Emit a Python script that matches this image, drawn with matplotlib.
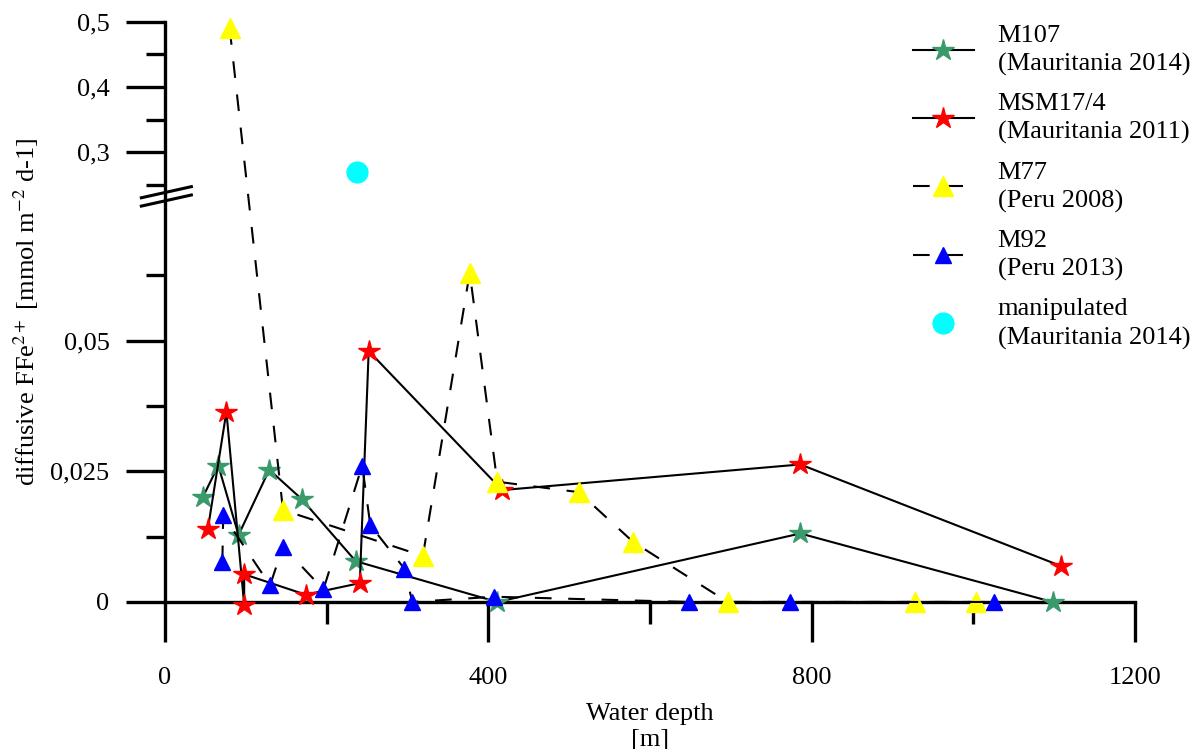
import numpy as np
import matplotlib
matplotlib.use('Agg')
import matplotlib.pyplot as plt
from matplotlib.lines import Line2D
from matplotlib.transforms import Affine2D, ScaledTranslation

# water depth [m] and diffusive Fe2+ flux [mmol m-2 d-1]
m107_depth = [47, 66, 91, 129, 169, 236, 411, 786, 1098]
m107_flux = [0.0201, 0.0261, 0.0128, 0.0253, 0.0197, 0.0078, 0.0, 0.0131, 0.0]

msm_depth = [53, 76, 98, 98, 174, 241, 252, 417, 786, 1108]
msm_flux = [0.0139, 0.0364, -0.0006, 0.0053, 0.0014, 0.0036, 0.048, 0.0214, 0.0263, 0.0069]

m77_depth = [80, 146, 319, 377, 411, 512, 579, 696, 928, 1003]
m77_flux = [0.49, 0.0176, 0.0088, 0.063, 0.023, 0.021, 0.0115, 0.0, 0.0, 0.0]

m92_depth = [71, 72, 130, 146, 196, 244, 254, 296, 306, 407, 648, 773, 1025]
m92_flux = [0.0076, 0.0166, 0.0032, 0.0106, 0.0024, 0.0261, 0.0147, 0.0064, 0.0, 0.001, 0.0, 0.0, 0.0]

manip_depth = [237]
manip_flux = [0.27]

labels = ['M107\n(Mauritania 2014)', 'MSM17/4\n(Mauritania 2011)',
          'M77\n(Peru 2008)', 'M92\n(Peru 2013)', 'manipulated\n(Mauritania 2014)']

yticks = [0, 0.025, 0.05, 0.3, 0.4, 0.5]
yticklabels = ['0', '0,025', '0,05', '0,3', '0,4', '0,5']
yminor = [0.0125, 0.0375, 0.0625, 0.25, 0.35, 0.45]
xticks = [0, 400, 800, 1200]
xminor = [200, 600, 1000]
y_break = 0.17

plt.rcParams['font.family'] = ['Liberation Serif', 'DejaVu Serif']
plt.rcParams['mathtext.fontset'] = 'stix'
plt.rcParams['font.size'] = 19

# broken y axis: 0..0.075 stretched, 0.075..0.25 squeezed, 0.25..0.5 normal
knot_y = [0, 0.075, 0.25, 0.5]
knot_u = [0, 6, 6.38, 8.88]


def fwd(y):
    y = np.asarray(y, dtype=float)
    u = np.interp(y, knot_y, knot_u)
    u = np.where(y < 0, y / 0.0125, u)
    u = np.where(y > 0.5, 8.88 + (y - 0.5) * 10, u)
    return u


def inv(u):
    u = np.asarray(u, dtype=float)
    y = np.interp(u, knot_u, knot_y)
    y = np.where(u < 0, u * 0.0125, y)
    y = np.where(u > 8.88, 0.5 + (u - 8.88) / 10, y)
    return y


fig = plt.figure(figsize=(11.92, 7.49), dpi=100)
ax = fig.add_axes([0.1384, 0.1963, 0.8138, 0.7748])
ax.set_yscale('function', functions=(fwd, inv))

dash = (0, (8, 8))
ax.plot(m107_depth, m107_flux, color='black', lw=1.5, marker='*', ms=16,
        mfc='#3a9a6b', mec='#3a9a6b', label=labels[0], clip_on=False, zorder=3)
ax.plot(msm_depth, msm_flux, color='black', lw=1.5, marker='*', ms=16,
        mfc='red', mec='red', label=labels[1], clip_on=False, zorder=3)
ax.plot(m77_depth, m77_flux, color='black', lw=1.5, ls=dash, marker='^', ms=15,
        mfc='yellow', mec='yellow', label=labels[2], clip_on=False, zorder=3)
ax.plot(m92_depth, m92_flux, color='black', lw=1.5, ls=dash, marker='^', ms=12,
        mfc='blue', mec='blue', label=labels[3], clip_on=False, zorder=3)
ax.plot(manip_depth, manip_flux, ls='none', marker='o', ms=15,
        mfc='#00ffff', mec='#00ffff', label=labels[4], clip_on=False, zorder=3)

ax.set_xlim(0, 1200)
ax.set_ylim(0, 0.5)

for s in ['top', 'right']:
    ax.spines[s].set_visible(False)
for s in ['left', 'bottom']:
    ax.spines[s].set_linewidth(2.4)

ax.set_xticks(xticks)
ax.set_xticks(xminor, minor=True)
ax.set_yticks(yticks)
ax.set_yticklabels(yticklabels)
ax.set_yticks(yminor, minor=True)
ax.yaxis.set_minor_formatter(plt.NullFormatter())
ax.tick_params(axis='y', which='major', direction='out', length=28, width=2.4, pad=12)
ax.tick_params(axis='y', which='minor', direction='out', length=14, width=2.4)
ax.tick_params(axis='x', which='major', direction='out', length=29, width=2.4, pad=18)
ax.tick_params(axis='x', which='minor', direction='out', length=16, width=2.4)

# break marks on the y axis
pts = Affine2D().scale(1 / 72) + fig.dpi_scale_trans
anchor = ScaledTranslation(0, y_break, ax.get_yaxis_transform())
for dy in (3, -3):
    ax.add_line(Line2D([-17, 19], [dy - 4, dy + 4], transform=pts + anchor,
                       color='black', lw=2.2, clip_on=False))

ax.set_ylabel('diffusive FFe$^{2+}$ [mmol m$^{-2}$ d-1]')
ax.yaxis.set_label_coords(-0.128, 0.5)
ax.set_xlabel('Water depth\n[m]', linespacing=1.25)
ax.xaxis.set_label_coords(0.5, -0.174)
ax.xaxis.label.set_va('top')

leg = ax.legend(loc='upper left', bbox_to_anchor=(0.766, 0.967), bbox_transform=fig.transFigure,
                frameon=False, borderpad=0, handlelength=2.3, handletextpad=0.9,
                labelspacing=0.65, borderaxespad=0)
for t in leg.get_texts():
    t.set_linespacing(1.35)

fig.savefig('out.png', dpi=100)
